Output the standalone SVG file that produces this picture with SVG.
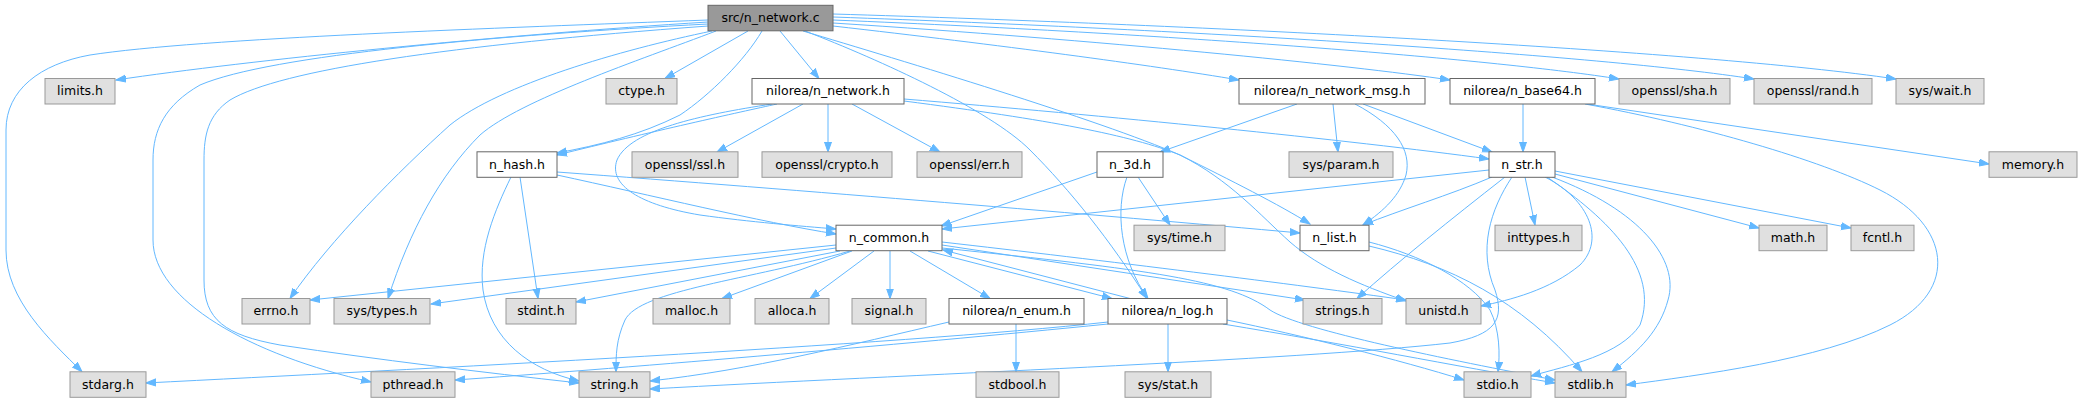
<svg xmlns="http://www.w3.org/2000/svg" width="2082" height="403" viewBox="0 0 2082 403">
<defs>
<marker id="ah" markerWidth="11" markerHeight="9" refX="10" refY="4" orient="auto" markerUnits="userSpaceOnUse"><path d="M0,0.5 L10,4 L0,7.5 z" fill="#63b8ff" stroke="#63b8ff" stroke-width="1"/></marker>
</defs>
<style>
.w rect{fill:#ffffff;stroke:#666666;stroke-width:1}
.g rect{fill:#e0e0e0;stroke:#999999;stroke-width:1}
.m rect{fill:#999999;stroke:#666666;stroke-width:1}
text{font-family:"DejaVu Sans","Liberation Sans",sans-serif;font-size:12.5px;fill:#000000;text-anchor:middle}
#edges path{fill:none;stroke:#63b8ff;stroke-width:1;marker-end:url(#ah)}
</style>
<rect width="2082" height="403" fill="#ffffff"/>
<g id="edges">
<path d="M708,20 C 500,28 200,38 90,55 C 40,64 6,90 6,130 L 6,250 C 6,300 50,340 82,371.8"/>
<path d="M708,22 C 500,35 250,60 116,80"/>
<path d="M708,24 C 500,35 270,55 200,85 C 165,105 153,130 153,160 L 153,240 C 153,300 250,355 371,382"/>
<path d="M708,26 C 450,45 280,70 230,100 C 208,115 204,135 204,160 L 204,280 C 204,320 225,335 280,345 C 380,360 480,372 579,383"/>
<path d="M712,31 C 620,50 500,85 450,125 C 400,170 330,240 290,298.5"/>
<path d="M716,31 C 640,60 520,100 480,135 C 440,175 410,230 388,298.5"/>
<path d="M762,31 C 745,60 710,95 680,115 C 640,135 600,145 557,153"/>
<path d="M748,31 L 665,78.5"/>
<path d="M780,31 L 819,78.5"/>
<path d="M805,31 C 880,60 990,110 1030,150 C 1070,190 1110,240 1147,298.5"/>
<path d="M803,31 C 900,60 1100,120 1180,155 C 1230,180 1260,215 1290,242 C 1320,268 1360,285 1406,301"/>
<path d="M833,26 C 1000,45 1150,65 1239,80"/>
<path d="M833,23 C 1100,40 1350,65 1450,80"/>
<path d="M833,20 C 1200,35 1500,60 1619,79"/>
<path d="M833,17 C 1200,30 1600,55 1754,79"/>
<path d="M833,14 C 1200,25 1700,50 1896,79"/>
<path d="M777,104 C 740,112 650,132 557,155"/>
<path d="M772,104 C 700,115 630,130 617,160 C 608,185 640,205 700,215 C 750,222 800,226 836,229"/>
<path d="M803,104 L 717,152"/>
<path d="M828,104 L 828,152"/>
<path d="M852,104 L 940,152"/>
<path d="M904,99 C 1100,115 1350,140 1489,159"/>
<path d="M904,101 C 1050,120 1130,135 1180,155 C 1230,180 1280,205 1310,224"/>
<path d="M1297,104 L 1160,152"/>
<path d="M1333,104 L 1338,152"/>
<path d="M1363,104 L 1492,152"/>
<path d="M1355,104 C 1395,125 1412,150 1406,175 C 1400,195 1385,210 1363,225"/>
<path d="M1523,104 L 1523,152"/>
<path d="M1587,104 L 1989,164"/>
<path d="M1585,104 C 1700,125 1820,160 1880,190 C 1950,225 1960,290 1890,325 C 1820,360 1700,375 1626,385"/>
<path d="M557,175 C 650,195 760,222 836,234"/>
<path d="M557,172 C 800,190 1100,215 1300,233"/>
<path d="M520,177 L 538,298.5"/>
<path d="M511,177 C 495,210 478,250 483,290 C 490,340 530,370 579,381"/>
<path d="M1097,172 L 941,226"/>
<path d="M1138,177 L 1170,225"/>
<path d="M1127,177 C 1115,210 1120,260 1148,298.5"/>
<path d="M1489,170 L 942,229"/>
<path d="M1492,177 C 1450,195 1400,210 1363,225"/>
<path d="M1505,177 C 1450,220 1400,260 1357,298.5"/>
<path d="M1512,177 C 1490,210 1478,250 1495,290 C 1505,320 1495,335 1450,343 C 1300,360 900,375 650,389"/>
<path d="M1525,177 L 1535,225"/>
<path d="M1545,177 C 1590,200 1605,240 1580,265 C 1550,290 1510,300 1481,306"/>
<path d="M1547,177 C 1610,220 1660,270 1640,325 C 1620,355 1570,365 1531,376"/>
<path d="M1552,177 C 1640,210 1680,260 1668,300 C 1660,330 1640,350 1612,371.8"/>
<path d="M1555,174 L 1759,228"/>
<path d="M1555,171 L 1851,228"/>
<path d="M1369,242 C 1420,255 1470,280 1490,310 C 1500,330 1500,355 1498,371.8"/>
<path d="M1369,246 C 1450,265 1520,300 1582,371.8"/>
<path d="M836,245 L 310,300"/>
<path d="M836,248 L 431,304"/>
<path d="M840,251 L 576,302"/>
<path d="M850,251 C 750,280 640,290 625,320 C 616,340 616,355 616,371.8"/>
<path d="M852,251 L 722,298.5"/>
<path d="M874,251 L 810,298.5"/>
<path d="M890,251 L 890,298.5"/>
<path d="M910,251 L 990,298.5"/>
<path d="M928,251 L 1112,298.5"/>
<path d="M942,245 L 1305,300"/>
<path d="M942,242 C 1100,260 1300,285 1406,300"/>
<path d="M942,248 C 1150,270 1230,280 1270,310 C 1300,330 1450,360 1555,380"/>
<path d="M1130,298.5 L 943,250"/>
<path d="M1108,322 C 900,345 400,370 146,383"/>
<path d="M1108,324 C 900,345 600,370 455,380"/>
<path d="M1168,324 L 1168,371.8"/>
<path d="M1227,320 C 1300,335 1400,360 1464,380"/>
<path d="M1223,324 C 1350,345 1450,365 1555,383"/>
<path d="M949,322 C 850,345 750,370 650,381"/>
<path d="M1016,324 L 1016,371.8"/>
</g>
<g id="node_src" class="m"><rect x="708" y="5.3" width="125" height="25.5"/><text x="770.5" y="22.1">src/n_network.c</text></g>
<g id="node_limits" class="g"><rect x="45" y="78.5" width="70" height="25.5"/><text x="80" y="95.3">limits.h</text></g>
<g id="node_ctype" class="g"><rect x="606" y="78.5" width="71" height="25.5"/><text x="641.5" y="95.3">ctype.h</text></g>
<g id="node_n_network_h" class="w"><rect x="752" y="78.5" width="152" height="25.5"/><text x="828" y="95.3">nilorea/n_network.h</text></g>
<g id="node_n_network_msg" class="w"><rect x="1239" y="78.5" width="186" height="25.5"/><text x="1332" y="95.3">nilorea/n_network_msg.h</text></g>
<g id="node_n_base64" class="w"><rect x="1450" y="78.5" width="145" height="25.5"/><text x="1522.5" y="95.3">nilorea/n_base64.h</text></g>
<g id="node_sha" class="g"><rect x="1619" y="78.5" width="111" height="25.5"/><text x="1674.5" y="95.3">openssl/sha.h</text></g>
<g id="node_rand" class="g"><rect x="1754" y="78.5" width="118" height="25.5"/><text x="1813" y="95.3">openssl/rand.h</text></g>
<g id="node_wait" class="g"><rect x="1896" y="78.5" width="88" height="25.5"/><text x="1940" y="95.3">sys/wait.h</text></g>
<g id="node_n_hash" class="w"><rect x="477" y="151.8" width="80" height="25.5"/><text x="517" y="168.6">n_hash.h</text></g>
<g id="node_ssl" class="g"><rect x="632" y="151.8" width="106" height="25.5"/><text x="685" y="168.6">openssl/ssl.h</text></g>
<g id="node_crypto" class="g"><rect x="762" y="151.8" width="130" height="25.5"/><text x="827" y="168.6">openssl/crypto.h</text></g>
<g id="node_err" class="g"><rect x="917" y="151.8" width="105" height="25.5"/><text x="969.5" y="168.6">openssl/err.h</text></g>
<g id="node_n_3d" class="w"><rect x="1097" y="151.8" width="66" height="25.5"/><text x="1130" y="168.6">n_3d.h</text></g>
<g id="node_param" class="g"><rect x="1289" y="151.8" width="104" height="25.5"/><text x="1341" y="168.6">sys/param.h</text></g>
<g id="node_n_str" class="w"><rect x="1489" y="151.8" width="66" height="25.5"/><text x="1522" y="168.6">n_str.h</text></g>
<g id="node_memory" class="g"><rect x="1989" y="151.8" width="88" height="25.5"/><text x="2033" y="168.6">memory.h</text></g>
<g id="node_n_common" class="w"><rect x="836" y="225.2" width="106" height="25.5"/><text x="889" y="242">n_common.h</text></g>
<g id="node_time" class="g"><rect x="1134" y="225.2" width="91" height="25.5"/><text x="1179.5" y="242">sys/time.h</text></g>
<g id="node_n_list" class="w"><rect x="1300" y="225.2" width="69" height="25.5"/><text x="1334.5" y="242">n_list.h</text></g>
<g id="node_inttypes" class="g"><rect x="1495" y="225.2" width="87" height="25.5"/><text x="1538.5" y="242">inttypes.h</text></g>
<g id="node_math" class="g"><rect x="1759" y="225.2" width="68" height="25.5"/><text x="1793" y="242">math.h</text></g>
<g id="node_fcntl" class="g"><rect x="1851" y="225.2" width="63" height="25.5"/><text x="1882.5" y="242">fcntl.h</text></g>
<g id="node_errno" class="g"><rect x="242" y="298.5" width="68" height="25.5"/><text x="276" y="315.3">errno.h</text></g>
<g id="node_types" class="g"><rect x="334" y="298.5" width="96" height="25.5"/><text x="382" y="315.3">sys/types.h</text></g>
<g id="node_stdint" class="g"><rect x="506" y="298.5" width="70" height="25.5"/><text x="541" y="315.3">stdint.h</text></g>
<g id="node_malloc" class="g"><rect x="653" y="298.5" width="77" height="25.5"/><text x="691.5" y="315.3">malloc.h</text></g>
<g id="node_alloca" class="g"><rect x="755" y="298.5" width="74" height="25.5"/><text x="792" y="315.3">alloca.h</text></g>
<g id="node_signal" class="g"><rect x="852" y="298.5" width="74" height="25.5"/><text x="889" y="315.3">signal.h</text></g>
<g id="node_n_enum" class="w"><rect x="949" y="298.5" width="135" height="25.5"/><text x="1016.5" y="315.3">nilorea/n_enum.h</text></g>
<g id="node_n_log" class="w"><rect x="1108" y="298.5" width="119" height="25.5"/><text x="1167.5" y="315.3">nilorea/n_log.h</text></g>
<g id="node_strings" class="g"><rect x="1303" y="298.5" width="79" height="25.5"/><text x="1342.5" y="315.3">strings.h</text></g>
<g id="node_unistd" class="g"><rect x="1406" y="298.5" width="75" height="25.5"/><text x="1443.5" y="315.3">unistd.h</text></g>
<g id="node_stdarg" class="g"><rect x="70" y="371.8" width="76" height="25.5"/><text x="108" y="388.6">stdarg.h</text></g>
<g id="node_pthread" class="g"><rect x="371" y="371.8" width="84" height="25.5"/><text x="413" y="388.6">pthread.h</text></g>
<g id="node_string" class="g"><rect x="579" y="371.8" width="71" height="25.5"/><text x="614.5" y="388.6">string.h</text></g>
<g id="node_stdbool" class="g"><rect x="976" y="371.8" width="83" height="25.5"/><text x="1017.5" y="388.6">stdbool.h</text></g>
<g id="node_stat" class="g"><rect x="1125" y="371.8" width="86" height="25.5"/><text x="1168" y="388.6">sys/stat.h</text></g>
<g id="node_stdio" class="g"><rect x="1464" y="371.8" width="67" height="25.5"/><text x="1497.5" y="388.6">stdio.h</text></g>
<g id="node_stdlib" class="g"><rect x="1555" y="371.8" width="71" height="25.5"/><text x="1590.5" y="388.6">stdlib.h</text></g>
</svg>
